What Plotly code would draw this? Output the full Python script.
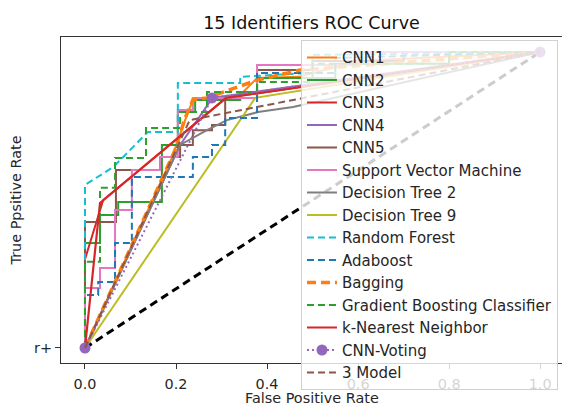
import plotly.graph_objects as go

# ---------------- data ----------------
names = ["CNN1", "CNN2", "CNN3", "CNN4", "CNN5", "Support Vector Machine",
         "Decision Tree 2", "Decision Tree 9", "Random Forest", "Adaboost",
         "Bagging", "Gradient Boosting Classifier", "k-Nearest Neighbor",
         "CNN-Voting", "3 Model"]

cnn1_fpr = [0, 0.19, 0.22, 0.237, 0.341, 0.378, 0.47, 0.6, 1]
cnn1_tpr = [0, 0.64, 0.77, 0.838, 0.855, 0.912, 0.916, 0.97, 1]

cnn2_fpr = [0, 0, 0.033, 0.033, 0.073, 0.073, 0.169, 0.169, 0.204, 0.204, 0.242, 0.242, 0.341, 0.341, 0.378, 0.378, 0.55, 0.55, 0.8, 0.8, 1]
cnn2_tpr = [0, 0.355, 0.355, 0.449, 0.449, 0.493, 0.493, 0.686, 0.686, 0.797, 0.797, 0.838, 0.838, 0.865, 0.865, 0.912, 0.912, 0.96, 0.96, 1, 1]

cnn3_fpr = [0, 0, 0.04, 0.31, 1]
cnn3_tpr = [0, 0.3, 0.5, 0.845, 1]

cnn4_fpr = [0, 0.209, 0.28, 1]
cnn4_tpr = [0, 0.686, 0.845, 1]

cnn5_fpr = [0, 0, 0.068, 0.068, 0.165, 0.165, 0.209, 0.209, 0.237, 0.237, 0.279, 0.279, 0.308, 0.308, 0.378, 0.378, 0.5, 0.5, 0.7, 0.7, 1]
cnn5_tpr = [0, 0.426, 0.426, 0.601, 0.601, 0.645, 0.645, 0.686, 0.686, 0.736, 0.736, 0.753, 0.753, 0.845, 0.845, 0.939, 0.939, 0.97, 0.97, 1, 1]

svm_fpr = [0, 0, 0.033, 0.033, 0.066, 0.066, 0.103, 0.103, 0.165, 0.165, 0.204, 0.204, 0.237, 0.237, 0.378, 0.378, 0.6, 0.6, 1]
svm_tpr = [0, 0.203, 0.203, 0.27, 0.27, 0.466, 0.466, 0.601, 0.601, 0.645, 0.645, 0.804, 0.804, 0.845, 0.845, 0.956, 0.956, 1, 1]

dt2_fpr = [0, 0.209, 0.268, 0.312, 0.38, 0.457, 1]
dt2_tpr = [0, 0.686, 0.736, 0.77, 0.797, 0.814, 1]

dt9_fpr = [0, 0.374, 1]
dt9_tpr = [0, 0.845, 1]

rf_fpr = [0, 0, 0.062, 0.138, 0.204, 0.204, 0.341, 0.341, 0.5, 0.5, 1]
rf_tpr = [0, 0.551, 0.611, 0.73, 0.73, 0.895, 0.895, 0.916, 0.93, 0.99, 1]

ada_fpr = [0, 0, 0.029, 0.029, 0.066, 0.066, 0.103, 0.103, 0.237, 0.237, 0.279, 0.279, 0.308, 0.308, 0.378, 0.378, 0.55, 0.55, 1]
ada_tpr = [0, 0.179, 0.179, 0.223, 0.223, 0.355, 0.355, 0.578, 0.578, 0.645, 0.645, 0.686, 0.686, 0.777, 0.777, 0.929, 0.929, 0.98, 1]

bag_fpr = [0, 0.198, 0.22, 0.237, 0.268, 0.378, 0.473, 1]
bag_tpr = [0, 0.669, 0.777, 0.838, 0.845, 0.905, 0.939, 1]

gbc_fpr = [0, 0, 0.033, 0.033, 0.066, 0.066, 0.134, 0.134, 0.209, 0.209, 0.268, 0.268, 0.378, 0.378, 0.5, 0.5, 0.8, 0.8, 1]
gbc_tpr = [0, 0.291, 0.291, 0.541, 0.541, 0.642, 0.642, 0.743, 0.743, 0.797, 0.797, 0.865, 0.865, 0.899, 0.899, 0.96, 0.96, 1, 1]

knn_fpr = [0, 0.033, 0.31, 1]
knn_tpr = [0, 0.49, 0.845, 1]

vote_fpr = [0, 0.279, 1]
vote_tpr = [0, 0.845, 1]

m3_fpr = [0, 0.23, 1]
m3_tpr = [0, 0.77, 1]

diag_x = [0, 1]
diag_y = [0, 1]

x_ticks = [0, 0.2, 0.4, 0.6, 0.8, 1.0]
x_tick_labels = ["0.0", "0.2", "0.4", "0.6", "0.8", "1.0"]
y_ticks = [0]
y_tick_labels = ["r+"]

# ---------------- styling ----------------
series = [
    (cnn1_fpr, cnn1_tpr, "#ff7f0e", "solid", 2),
    (cnn2_fpr, cnn2_tpr, "#2ca02c", "solid", 2),
    (cnn3_fpr, cnn3_tpr, "#d62728", "solid", 2),
    (cnn4_fpr, cnn4_tpr, "#9467bd", "solid", 2),
    (cnn5_fpr, cnn5_tpr, "#8c564b", "solid", 2),
    (svm_fpr, svm_tpr, "#e377c2", "solid", 2),
    (dt2_fpr, dt2_tpr, "#7f7f7f", "solid", 2),
    (dt9_fpr, dt9_tpr, "#bcbd22", "solid", 2),
    (rf_fpr, rf_tpr, "#17becf", "7px,4px", 2),
    (ada_fpr, ada_tpr, "#1f77b4", "7px,4px", 2),
    (bag_fpr, bag_tpr, "#ff7f0e", "9px,5px", 3.5),
    (gbc_fpr, gbc_tpr, "#2ca02c", "7px,4px", 2),
    (knn_fpr, knn_tpr, "#d62728", "solid", 2.2),
    (vote_fpr, vote_tpr, "#9467bd", "2px,3px", 2),
    (m3_fpr, m3_tpr, "#8c564b", "7px,4px", 2),
]

FONT = "DejaVu Sans"
TXT = "#262626"

fig = go.Figure()

fig.add_trace(go.Scatter(x=diag_x, y=diag_y, mode="lines", showlegend=False,
                         line=dict(color="black", dash="8px,5px", width=3),
                         hoverinfo="skip"))

for name, (xs, ys, col, dash, w) in zip(names, series):
    if name == "CNN-Voting":
        fig.add_trace(go.Scatter(x=xs, y=ys, name=name, mode="lines+markers",
                                 line=dict(color=col, dash=dash, width=w),
                                 marker=dict(color=col, size=11)))
    else:
        fig.add_trace(go.Scatter(x=xs, y=ys, name=name, mode="lines",
                                 line=dict(color=col, dash=dash, width=w)))

fig.update_layout(
    width=562, height=410,
    margin=dict(l=61, r=0, t=37, b=47, autoexpand=False),
    paper_bgcolor="white", plot_bgcolor="white",
    font=dict(family=FONT, size=14.4, color=TXT),
    title=dict(text="15 Identifiers ROC Curve", x=0.5, xref="paper",
               xanchor="center", y=1, yref="container", yanchor="top",
               pad=dict(t=17), font=dict(size=17.5, color="#111")),
    legend=dict(x=0.479, y=0.99, xanchor="left", yanchor="top",
                bgcolor="rgba(255,255,255,0.8)", bordercolor="#d0d0d0",
                borderwidth=1, font=dict(size=15, color=TXT),
                traceorder="normal", maxheight=400),
    showlegend=True,
    annotations=[dict(text="False Positive Rate", xref="paper", yref="paper",
                      x=0.5, y=-0.107, xanchor="center", yanchor="middle",
                      showarrow=False, font=dict(size=14.4, color=TXT))],
)

fig.update_xaxes(range=[-0.0527, 1.048], tickvals=x_ticks, ticktext=x_tick_labels,
                 showgrid=False, zeroline=False, showline=True, mirror=True,
                 linecolor="#333", linewidth=1.2, ticks="outside", ticklen=5,
                 ticklabelstandoff=3,
                 tickcolor="#333", tickfont=dict(size=14.4))
fig.update_yaxes(range=[-0.0507, 1.0507], tickvals=y_ticks, ticktext=y_tick_labels,
                 showgrid=False, zeroline=False, showline=True, mirror=True,
                 linecolor="#333", linewidth=1.2, ticks="outside", ticklen=5,
                 tickcolor="#333", tickfont=dict(size=14.4),
                 title=dict(text="True Ppsitive Rate", standoff=8, font=dict(size=14.4)))

fig.write_html("out.html", config={"displayModeBar": False},
               post_script="document.body.style.margin='0';")
